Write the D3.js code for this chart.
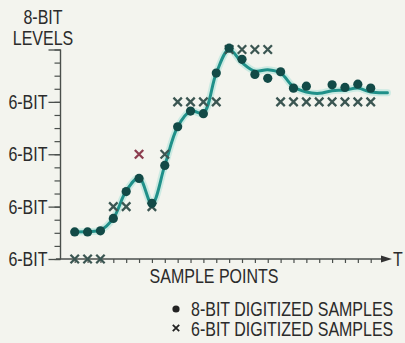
<!DOCTYPE html>
<html>
<head>
<meta charset="utf-8">
<script src="https://cdn.jsdelivr.net/npm/d3@7"></script>
<style>
  html, body { margin: 0; padding: 0; background: #f3f4ee; }
  svg { display: block; }
  text { font-family: "Liberation Sans", Arial, sans-serif; fill: #2b2b2b; }
</style>
</head>
<body>
<svg id="chart" width="405" height="343"></svg>
<script>
// Sample index along the time axis (0..23)
const samples = d3.range(24);

// 8-bit digitized samples (8-bit level units); null where no dot is drawn
const eightBit = [2.07, 2.07, 2.15, 3.1, 5.15, 6.15, 4.25, 7.15, 10.1, 11.3, 11.1, 14.2,
                  16.1, 15.25, 14.1, 13.8, 14.3, 13.05, 13.2, null, 13.3, 13.1, 13.35, 13.05];

// 6-bit digitized samples (in 8-bit level units, multiples of 4)
const sixBit = [0, 0, 0, 4, 4, 8, 4, 8, 12, 12, 12, 12,
                16, 16, 16, 16, 12, 12, 12, 12, 12, 12, 12, 12];

// Sample whose 6-bit value is flagged
const flaggedSample = 5;

// Analog signal trace: position (in sample units) and level
const signalTime  = [0, 1, 2, 3, 4, 5, 6, 7, 8, 9, 10, 11, 12, 13, 14, 15, 16, 17, 18, 19, 20, 21, 22, 23, 24.3];
const signalLevel = [2.07, 2.1, 2.2, 3.1, 5.2, 6.2, 4.2, 7.15, 10.1, 11.3, 11.15, 14.2,
                     16.0, 15.0, 14.35, 14.45, 14.2, 13.15, 12.75, 12.65, 12.85, 12.9, 13.05, 12.75, 12.7];

// Vertical axis: 8-bit levels, 6-bit steps every 4 levels
const levelTicks = d3.range(0, 17);
const majorTicks = [0, 4, 8, 12, 16];
const majorLabels = ["6-BIT", "6-BIT", "6-BIT", "6-BIT", ""];

const legendItems = ["8-BIT DIGITIZED SAMPLES", "6-BIT DIGITIZED SAMPLES"];

const svg = d3.select("#chart");

const x = d3.scaleLinear().domain([0, 23]).range([74.7, 370.7]);
const y = d3.scaleLinear().domain([0, 16]).range([259, 49.5]);
const axisX = 60.5;

const axisColor = "#4a4f4c";
const narrow = 0.82;   // condensed lettering

// Condensed text: squeeze glyphs horizontally around the anchor point
function label(parent, tx, ty, str, anchor = "start", size = 19.5) {
  return parent.append("text")
    .attr("transform", `translate(${tx},${ty}) scale(${narrow},1)`)
    .attr("text-anchor", anchor)
    .attr("font-size", size)
    .text(str);
}

// ---- y axis: minor ticks
const yMinor = svg.append("g")
  .attr("transform", `translate(${axisX},0)`)
  .call(d3.axisLeft(y).tickValues(levelTicks).tickSize(6).tickFormat(""));
yMinor.select(".domain").remove();
yMinor.selectAll("line").attr("stroke", axisColor).attr("stroke-width", 1.2);

// ---- y axis: major ticks
const yMajor = svg.append("g")
  .attr("transform", `translate(${axisX},0)`)
  .call(d3.axisLeft(y).tickValues(majorTicks).tickSize(12).tickFormat(""));
yMajor.select(".domain").remove();
yMajor.selectAll("line").attr("stroke", axisColor).attr("stroke-width", 1.3);

// major tick labels
majorTicks.forEach((v, i) => {
  if (majorLabels[i]) label(svg, axisX - 13, y(v) + 7, majorLabels[i], "end");
});

svg.append("line")
  .attr("x1", axisX).attr("x2", axisX)
  .attr("y1", y(16)).attr("y2", y(0))
  .attr("stroke", axisColor).attr("stroke-width", 1.4);

// ---- x axis with ticks at each sample point
const xAxis = svg.append("g")
  .attr("transform", `translate(0,${y(0)})`)
  .call(d3.axisBottom(x).tickValues(samples).tickSize(4).tickFormat(""));
xAxis.select(".domain").remove();
xAxis.selectAll("line").attr("stroke", axisColor).attr("stroke-width", 1.2);

const arrowTip = 392;
svg.append("line")
  .attr("x1", 56).attr("x2", arrowTip - 8)
  .attr("y1", y(0)).attr("y2", y(0))
  .attr("stroke", axisColor).attr("stroke-width", 1.4);
svg.append("path")
  .attr("d", `M${arrowTip},${y(0)} L${arrowTip - 11},${y(0) - 3.5} L${arrowTip - 11},${y(0) + 3.5} Z`)
  .attr("fill", "#333");

label(svg, 393, y(0) + 7, "T");

// ---- axis titles
label(svg, 43, 24, "8-BIT", "middle");
label(svg, 43, 45, "LEVELS", "middle");
label(svg, 214, 283, "SAMPLE POINTS", "middle");

// ---- analog signal trace
const signal = signalTime.map((t, i) => [t, signalLevel[i]]);
const line = d3.line()
  .x(d => x(d[0]))
  .y(d => y(d[1]))
  .curve(d3.curveCatmullRom.alpha(0.5));

svg.append("path")
  .datum(signal)
  .attr("d", line)
  .attr("fill", "none")
  .attr("stroke", "#a9e2d9")
  .attr("stroke-width", 7)
  .attr("stroke-opacity", 0.55)
  .attr("stroke-linecap", "round")
  .attr("stroke-linejoin", "round");

svg.append("path")
  .datum(signal)
  .attr("d", line)
  .attr("fill", "none")
  .attr("stroke", "#1f9089")
  .attr("stroke-width", 3)
  .attr("stroke-linecap", "round")
  .attr("stroke-linejoin", "round");

// ---- 6-bit samples (crosses)
const xSize = 4.2;
const crossPath = (cx, cy, s) =>
  `M${cx - s},${cy - s} L${cx + s},${cy + s} M${cx - s},${cy + s} L${cx + s},${cy - s}`;

svg.append("g").selectAll("path")
  .data(samples.filter(i => sixBit[i] != null))
  .join("path")
  .attr("d", i => crossPath(x(i), y(sixBit[i]), xSize))
  .attr("stroke", i => i === flaggedSample ? "#8c3d4f" : "#3b5652")
  .attr("stroke-width", 2.3)
  .attr("fill", "none");

// ---- 8-bit samples (dots)
svg.append("g").selectAll("circle")
  .data(samples.filter(i => eightBit[i] != null))
  .join("circle")
  .attr("cx", i => x(i))
  .attr("cy", i => y(eightBit[i]))
  .attr("r", 4.6)
  .attr("fill", "#124a47");

// ---- legend
const legend = svg.append("g");
legend.append("circle").attr("cx", 176).attr("cy", 309).attr("r", 3.6).attr("fill", "#222");
legend.append("path").attr("d", crossPath(176, 328, 3.2))
  .attr("stroke", "#222").attr("stroke-width", 1.8);
legendItems.forEach((d, i) => label(legend, 191, 315.5 + i * 20, d));
</script>
</body>
</html>
